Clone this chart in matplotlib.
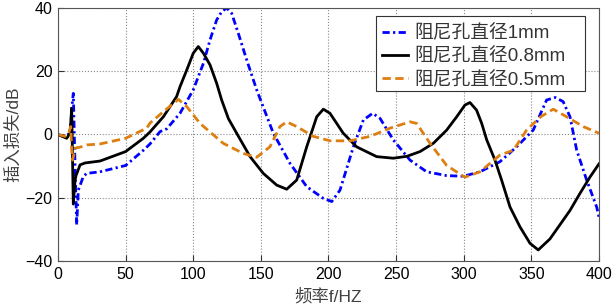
import matplotlib
matplotlib.use("Agg")
import matplotlib.pyplot as plt
from matplotlib.patches import Rectangle

plt.rcParams['font.family'] = ['Liberation Sans', 'Noto Sans CJK SC', 'DejaVu Sans']

# Data (frequency Hz, insertion loss dB)
freq_1mm = [0, 5.2, 7.6, 9.4, 10.1, 11.3, 12.6, 13.8, 15.0, 18.7, 21.2, 31, 50, 63.1, 68, 75.4, 80.4, 90.2,
            100, 107.5, 112.4, 117.3, 121.0, 124.7, 128.4, 133.3, 139.5, 146.9, 159.2, 171.5, 183.9, 196.2,
            202.4, 208.5, 218.4, 225.8, 232.7, 238.1, 247.9, 260.3, 272.6, 287.4, 299.7, 312, 326.8,
            339.1, 351.4, 361.3, 367.7, 373.5, 378.6, 383.5, 390.9, 398.3, 400]
il_1mm = [0, -0.8, 0.0, 2.0, 8.0, 13.0, -10.0, -28.6, -17.6, -13.3, -12.3, -11.8, -9.8, -5.0, -3.0, 0.9, 1.8, 6.7,
          14.1, 22.5, 29.9, 36.2, 38.8, 40.0, 38.3, 32.0, 23.6, 14.1, 0.4, -9.1, -16.5, -20.2,
          -21.2, -17.6, -3.9, 4.6, 6.7, 5.1, -1.7, -8.1, -11.8, -13.0, -13.2, -11.8, -8.6,
          -3.9, 1.4, 10.9, 11.7, 10.4, 5.6, -4.9, -14.4, -22.9, -26]

freq_08mm = [0, 6.4, 8.9, 10.1, 11.3, 12.6, 13.3, 16.3, 20, 31, 50, 63.1, 68, 77.9, 87.7, 90.2, 95.2, 100,
             103.7, 107.5, 112.4, 117.3, 121, 126, 132.1, 142, 151.8, 161.7, 169.1, 176.5, 183.9, 191.3, 196.2,
             201.1, 210.9, 220.8, 235.6, 247.9, 258, 267.7, 277.5, 287.4, 294.8, 300.9, 304.6, 309.5, 313.3,
             317, 323.1, 328, 334.2, 341.6, 349, 355.1, 363.8, 371.2, 378.6, 386, 393.3, 400]
il_08mm = [0, -1.2, 0.4, 8.3, -22.0, -14.4, -13.0, -9.6, -9.0, -8.4, -5.4, -1.2, 0.8, 5.6, 12.0, 15.1, 20.4, 25.7,
           27.8, 25.7, 22.0, 16.2, 10.9, 5.0, 0.4, -7.0, -12.3, -16.0, -17.3, -14.4, -3.9, 5.6, 8.0,
           6.7, 0.4, -3.9, -7.0, -7.5, -6.9, -5.4, -2.8, 1.4, 5.6, 9.3, 10.1, 7.7, 3.5,
           -1.7, -8.1, -14.4, -22.9, -29.2, -34.4, -36.5, -33.0, -28.5, -24.0, -18.6, -13.5, -9.3]

freq_05mm = [0, 5.2, 7.6, 9.4, 10.1, 10.8, 12.6, 13.8, 16.3, 21.2, 31, 50, 65.6, 68, 77.9, 89, 95.2,
             105, 122.2, 137, 146.9, 156.7, 164.1, 169.1, 176.5, 188.8, 201.1, 215.9, 230.7, 245.5,
             260.3, 265.2, 275.1, 287.4, 300.9, 312, 326.8, 336.7, 346.5, 356.9, 366.2, 376.1, 388.4, 400]
il_05mm = [0, -0.6, 0.1, 2.5, -4.9, -8.1, -4.5, -4.2, -4.0, -3.3, -3.0, -1.2, 2.0, 3.6, 7.2, 11.1, 8.8,
           3.5, -2.8, -6.0, -7.2, -3.9, 2.5, 4.0, 2.5, -0.6, -2.0, -2.0, -0.6, 2.0,
           4.0, 3.5, -2.8, -9.8, -13.5, -11.8, -6.5, -5.0, 1.4, 5.6, 8.0, 5.6, 2.5, 0.4]

labels = ['阻尼孔直径1mm', '阻尼孔直径0.8mm', '阻尼孔直径0.5mm']
x_ticks = [0, 50, 100, 150, 200, 250, 300, 350, 400]
y_ticks = [-40, -20, 0, 20, 40]

fig = plt.figure(figsize=(6.14, 3.06), dpi=100)
ax = fig.add_axes([0.0945, 0.147, 0.881, 0.827])

ax.plot(freq_1mm, il_1mm, color='#0000ff', linestyle=(0, (2.6, 1.2, 0.8, 1.2)), linewidth=2.0, label=labels[0])
ax.plot(freq_08mm, il_08mm, color='black', linestyle='-', linewidth=2.0, label=labels[1])
ax.plot(freq_05mm, il_05mm, color='#dd7f10', linestyle=(0, (3.0, 1.6)), linewidth=2.0, label=labels[2])

ax.set_xlim(0, 400)
ax.set_ylim(-40, 40)
ax.set_xticks(x_ticks)
ax.set_yticks(y_ticks)
ax.tick_params(direction='in', labelsize=11.5, length=4, colors='#333333', labelcolor='black', pad=4)
for s in ax.spines.values():
    s.set_color('#555555')
    s.set_linewidth(0.8)
ax.grid(True, linestyle=':', color='#888888', linewidth=0.8)

ax.set_xlabel('频率f/HZ', fontsize=12.5, color='#404040', labelpad=5)
ax.set_ylabel('插入损失/dB', fontsize=12.5, color='#404040', labelpad=3)

# legend box (MATLAB style)
ax.add_patch(Rectangle((0.588, 0.672), 0.386, 0.296, transform=ax.transAxes,
                       facecolor='white', edgecolor='#333333', linewidth=0.8, zorder=4))
leg = ax.legend(loc='upper left', bbox_to_anchor=(0.592, 0.950), borderaxespad=0,
                frameon=False, handlelength=1.4, labelspacing=0.3, borderpad=0.2,
                handletextpad=0.35, prop={'size': 13.5})
for t in leg.get_texts():
    t.set_color('#333333')

fig.savefig('out.png', dpi=100)
